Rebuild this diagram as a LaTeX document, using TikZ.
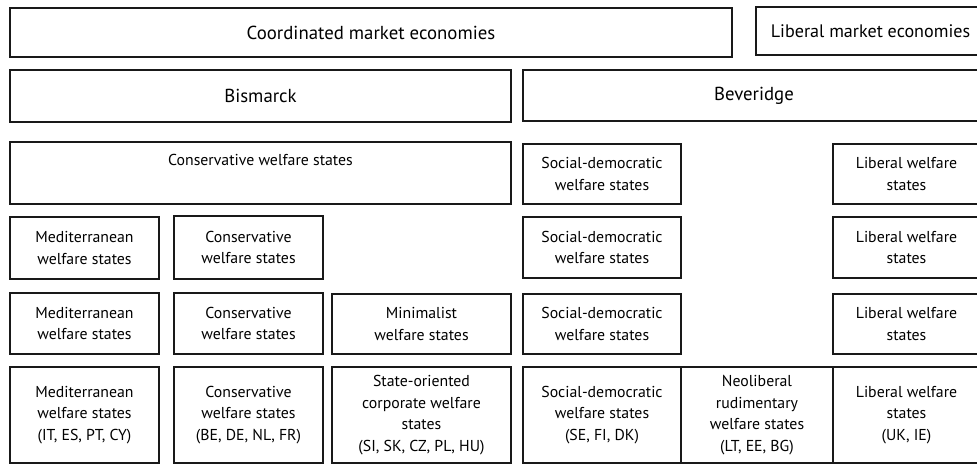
\documentclass[tikz,border=0pt]{standalone}
\usepackage{fontspec}
\setmainfont{PT Sans}
\begin{document}
\begin{tikzpicture}[x=1pt,y=-1pt,
  cell/.style={draw=black!90, line width=1.4pt, anchor=north west,
    inner sep=0pt, outer sep=0pt, align=center, text=black,
    font=\fontsize{15.8}{21.5}\selectfont},
  bigcell/.style={cell, font=\fontsize{18.8}{22}\selectfont}]
\useasboundingbox (0,0) rectangle (977,465);
\clip (0,0) rectangle (977,465);
% top tier: varieties of capitalism
\node[bigcell, minimum width=722pt, minimum height=49pt] (cme) at (10,8) {Coordinated market economies};
\node[bigcell, minimum width=229pt, minimum height=48pt, font=\fontsize{18.1}{22}\selectfont] (lme) at (756,7) {Liberal market economies};
% second tier: welfare traditions
\node[bigcell, minimum width=501pt, minimum height=52pt] (bis) at (10,70) {Bismarck};
\node[bigcell, minimum width=462pt, minimum height=51pt] (bev) at (523,70) {Beveridge};
% third tier
\node[cell, minimum width=501pt, minimum height=62pt, text depth=27pt] (cws) at (10,142) {Conservative welfare states};
\node[cell, minimum width=158pt, minimum height=60pt] (sd1) at (523,144) {Social-democratic\\welfare states};
\node[cell, minimum width=147pt, minimum height=60pt] (lib1) at (833,144) {Liberal welfare\\states};
% fourth tier
\node[cell, minimum width=149pt, minimum height=62pt] (med2) at (10,217) {Mediterranean\\welfare states};
\node[cell, minimum width=149pt, minimum height=63pt] (con2) at (174,216) {Conservative\\welfare states};
\node[cell, minimum width=158pt, minimum height=61pt] (sd2) at (523,217) {Social-democratic\\welfare states};
\node[cell, minimum width=147pt, minimum height=61pt] (lib2) at (833,217) {Liberal welfare\\states};
% fifth tier
\node[cell, minimum width=149pt, minimum height=61pt] (med3) at (10,293) {Mediterranean\\welfare states};
\node[cell, minimum width=149pt, minimum height=61pt] (con3) at (174,293) {Conservative\\welfare states};
\node[cell, minimum width=179pt, minimum height=60pt] (min3) at (332,294) {Minimalist\\welfare states};
\node[cell, minimum width=158pt, minimum height=60pt] (sd3) at (523,294) {Social-democratic\\welfare states};
\node[cell, minimum width=147pt, minimum height=60pt] (lib3) at (833,294) {Liberal welfare\\states};
% bottom tier with country groups
\node[cell, minimum width=149pt, minimum height=96pt] (med4) at (10,367) {Mediterranean\\welfare states\\(IT, ES, PT, CY)};
\node[cell, minimum width=149pt, minimum height=96pt] (con4) at (174,367) {Conservative\\welfare states\\(BE, DE, NL, FR)};
\node[cell, minimum width=179pt, minimum height=96pt] (so4) at (332,367) {State-oriented\\corporate welfare\\states\\(SI, SK, CZ, PL, HU)};
\node[cell, minimum width=158pt, minimum height=96pt] (sd4) at (523,367) {Social-democratic\\welfare states\\(SE, FI, DK)};
\node[cell, minimum width=152pt, minimum height=96pt] (neo4) at (681,367) {Neoliberal\\rudimentary\\welfare states\\(LT, EE, BG)};
\node[cell, minimum width=147pt, minimum height=96pt] (lib4) at (833,367) {Liberal welfare\\states\\(UK, IE)};
\end{tikzpicture}
\end{document}
